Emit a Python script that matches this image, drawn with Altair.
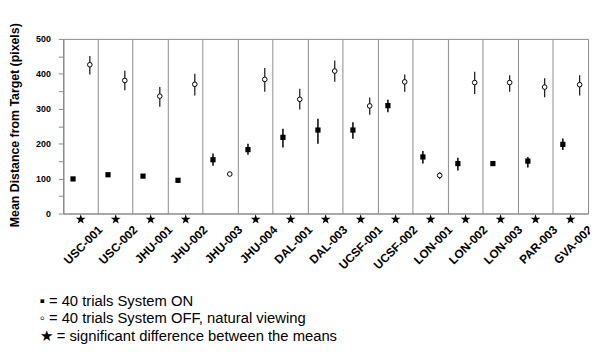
import altair as alt
import pandas as pd

sites = ["USC-001", "USC-002", "JHU-001", "JHU-002", "JHU-003", "JHU-004", "DAL-001",
         "DAL-003", "UCSF-001", "UCSF-002", "LON-001", "LON-002", "LON-003", "PAR-003", "GVA-002"]
on_mean = [99, 111, 107, 95, 154, 183, 218, 239, 239, 309, 162, 143, 143, 150, 198]
on_lo = [94, 105, 102, 90, 137, 168, 189, 200, 214, 290, 143, 123, 139, 132, 182]
on_hi = [104, 117, 112, 100, 172, 200, 243, 271, 261, 326, 179, 160, 147, 162, 215]
off_mean = [426, 381, 336, 370, 113, 384, 327, 408, 308, 377, 109, 375, 375, 362, 369]
off_lo = [398, 353, 306, 338, 108, 349, 298, 377, 283, 349, 98, 342, 349, 333, 338]
off_hi = [451, 409, 362, 400, 118, 417, 357, 438, 332, 398, 118, 406, 396, 387, 396]
significant = [True, True, True, True, False, True, True, True, True, True, True, True, True, True, True]
legend_lines = ["▪ = 40 trials System ON",
                "◦ = 40 trials System OFF, natural viewing",
                "★ = significant difference between the means"]

df = pd.DataFrame({"site": sites, "on": on_mean, "on_lo": on_lo, "on_hi": on_hi,
                   "off": off_mean, "off_lo": off_lo, "off_hi": off_hi, "sig": significant})

W, H = 532, 177
FONT = "Liberation Sans"
STAR = "M0,-1L0.2245,-0.309L0.951,-0.309L0.363,0.118L0.588,0.809L0,0.382L-0.588,0.809L-0.363,0.118L-0.951,-0.309L-0.2245,-0.309Z"

xscale = alt.Scale(domain=sites, paddingInner=0, paddingOuter=0)
xaxis = alt.Axis(title=None, grid=True, bandPosition=0, gridColor="#8a8a8a", gridOpacity=1,
                 domainColor="#8a8a8a", ticks=False, labelAngle=-45, labelAlign="right",
                 labelBaseline="middle", labelOffset=20, labelPadding=14,
                 labelFont=FONT, labelFontWeight="bold", labelFontSize=12, labelColor="#000")
yscale = alt.Scale(domain=[0, 500], nice=False)
yaxis = alt.Axis(title="Mean Distance from Target (pixels)", values=list(range(0, 501, 50)),
                 labelExpr="datum.value % 100 === 0 ? format(datum.value, 'd') : ''",
                 labelOverlap=False, labelBound=False,
                 grid=False, domainColor="#8a8a8a", tickColor="#8a8a8a", tickSize=5,
                 labelPadding=8, labelFont=FONT, labelFontWeight="bold", labelFontSize=9,
                 labelColor="#000", titleFont=FONT, titleFontWeight="bold", titleFontSize=12.5,
                 titleColor="#000", titleX=-49, titleY=87, titleBaseline="middle",
                 titleAlign="center", titleAngle=-90)

base = alt.Chart(df)

frame = base.mark_point(opacity=0).encode(
    x=alt.X("site:N", scale=xscale, axis=xaxis, sort=sites),
    y=alt.Y("on:Q", scale=yscale, axis=yaxis),
)

on_err = base.mark_rule(color="#000", strokeWidth=1.5).encode(
    x=alt.X("site:N", sort=sites, bandPosition=0.28),
    y=alt.Y("on_lo:Q", axis=yaxis), y2="on_hi:Q")
on_pts = base.mark_point(shape="square", filled=True, color="#000", size=28, opacity=1).encode(
    x=alt.X("site:N", sort=sites, bandPosition=0.28), y=alt.Y("on:Q", axis=yaxis))
off_err = base.mark_rule(color="#222", strokeWidth=1.3).encode(
    x=alt.X("site:N", sort=sites, bandPosition=0.76),
    y=alt.Y("off_lo:Q", axis=yaxis), y2="off_hi:Q")
off_pts = base.mark_point(shape="circle", filled=True, fill="#fff", stroke="#000",
                          strokeWidth=1, size=22, opacity=1).encode(
    x=alt.X("site:N", sort=sites, bandPosition=0.76), y=alt.Y("off:Q", axis=yaxis))
stars = base.transform_filter("datum.sig").mark_point(
    shape=STAR, filled=True, color="#000", size=110, opacity=1).encode(
    x=alt.X("site:N", sort=sites, bandPosition=0.5), y=alt.value(H + 6))

chart = alt.layer(frame, on_err, off_err, on_pts, off_pts, stars).properties(
    width=W, height=H,
    autosize=alt.AutoSizeParams(type="none"),
    padding={"left": 56, "top": 29, "right": 2, "bottom": 132},
    title=alt.TitleParams(text=legend_lines, orient="bottom", anchor="start", frame="group",
                          font=FONT, fontSize=15, fontWeight="normal", color="#000",
                          lineHeight=18, dx=-24, offset=23),
).configure_view(stroke="#8a8a8a", strokeWidth=1).configure_axisY(labelOverlap=False)

chart.save("out.html", embed_options={"renderer": "svg", "actions": False})
